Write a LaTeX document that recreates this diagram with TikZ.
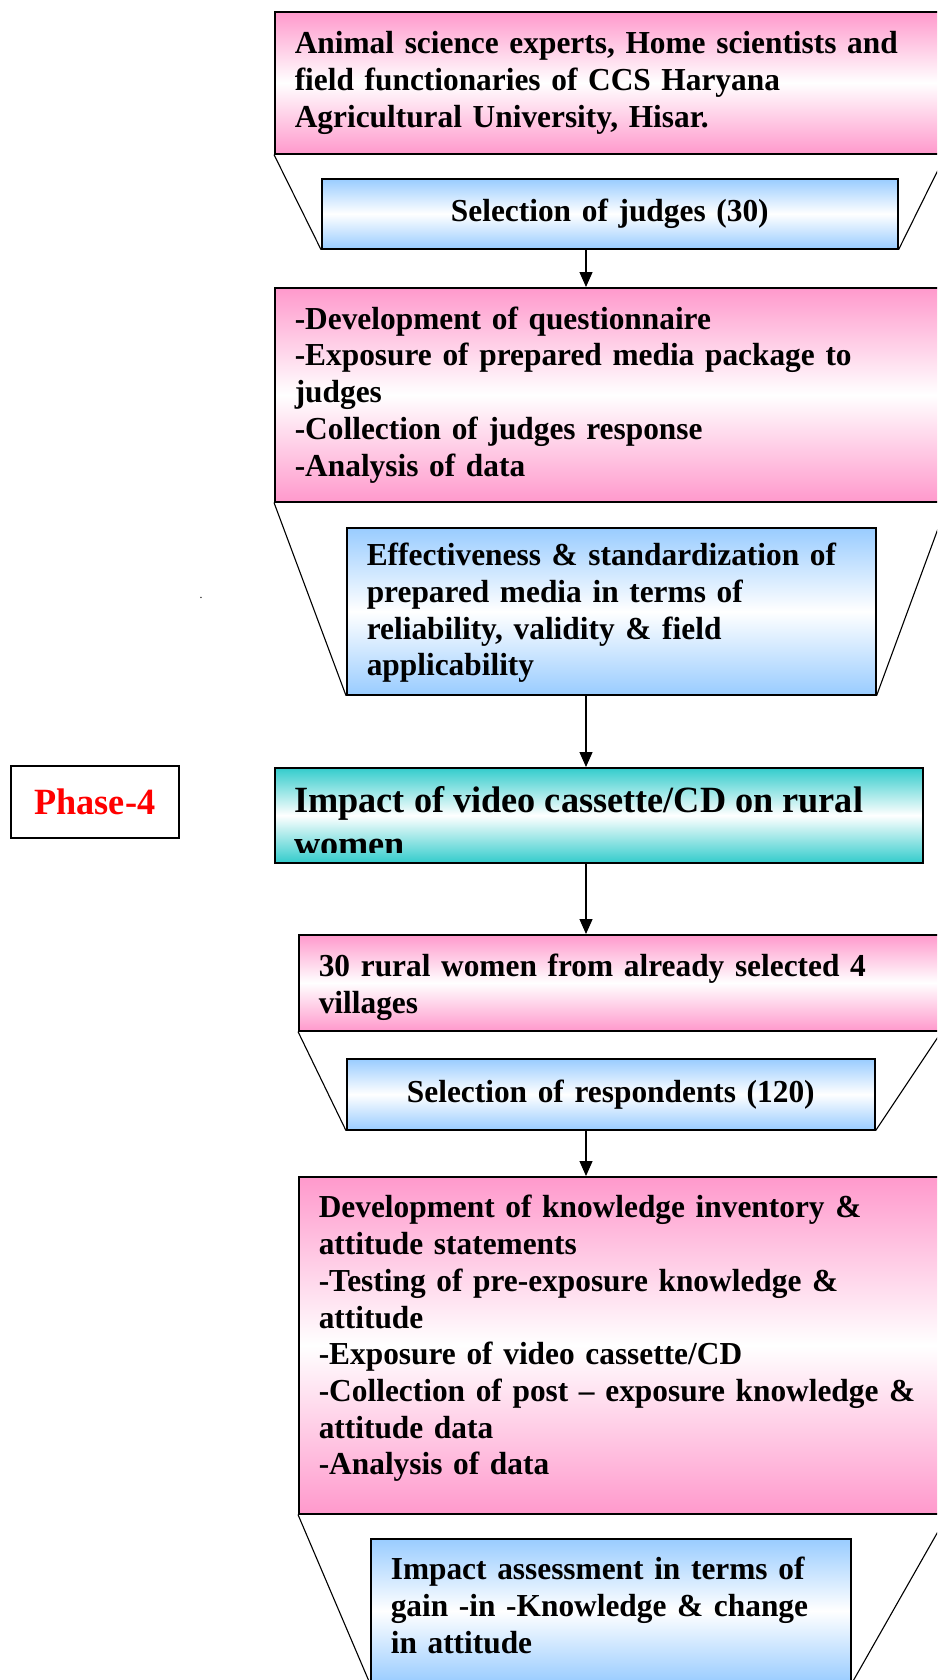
\documentclass[tikz,border=0pt]{standalone}
\usepackage{fontspec}
\setmainfont{Liberation Serif}[FakeStretch=0.98]
\usepackage{xcolor}
\usetikzlibrary{arrows.meta, positioning, calc}

\definecolor{pinkfill}{RGB}{255,153,204}
\definecolor{bluefill}{RGB}{153,204,255}
\definecolor{tealfill}{RGB}{51,204,204}

\begin{document}
\begin{tikzpicture}[
    x=1pt, y=-1pt,
    every node/.style={font=\bfseries\fontsize{32}{36.7}\selectfont},
    pinkbox/.style={rectangle, draw=black, line width=1.6pt, anchor=north west,
                    top color=pinkfill, bottom color=pinkfill, middle color=white,
                    inner xsep=20pt, inner ysep=0pt, align=left},
    bluebox/.style={rectangle, draw=black, line width=1.6pt, anchor=north west,
                    top color=bluefill, bottom color=bluefill, middle color=white,
                    inner xsep=20pt, inner ysep=0pt, align=left},
    tealbox/.style={rectangle, draw=black, line width=1.6pt, anchor=north west,
                    top color=tealfill, bottom color=tealfill, middle color=white,
                    inner sep=0pt},
    phasebox/.style={rectangle, draw=black, line width=1.6pt, fill=white, anchor=north west,
                     inner sep=0pt, text=red, font=\bfseries\fontsize{37}{40}\selectfont},
    arr/.style={-{Triangle[length=15pt, width=13pt]}, line width=1.2pt},
    funnel/.style={line width=1.1pt},
  ]
  \useasboundingbox (0,0) rectangle (937,1680);
  \clip (0,0) rectangle (937,1680);
  \coordinate (spine) at (586,0);

  % judges
  \node[pinkbox, text width=630pt, minimum height=142pt] (experts) at (274,11)
    {Animal science experts, Home scientists and\\field functionaries of CCS Haryana\\Agricultural University, Hisar.};
  \node[bluebox, text width=536pt, minimum height=70pt, align=center] (judges) at (321,178)
    {Selection of judges (30)};
  \node[pinkbox, text width=632pt, minimum height=214pt] (develop) at (274,287)
    {-Development of questionnaire\\-Exposure of prepared media package to\\judges\\-Collection of judges response\\-Analysis of data};
  \node[bluebox, text width=489pt, minimum height=167pt, text height=26pt] (effect) at (346,527)
    {Effectiveness \& standardization of\\prepared media in terms of\\reliability, validity \& field\\applicability};

  % phase 4
  \node[phasebox, minimum width=168pt, minimum height=72pt] (phase) at (10,765) {Phase-4};
  \node[tealbox, minimum width=648pt, minimum height=95pt] (impact) at (274,767) {};
  \begin{scope}
    \clip (impact.north west) rectangle ([yshift=11pt]impact.south east);
    \node[anchor=north west, inner sep=0pt, align=left,
          font=\bfseries\fontsize{37}{44}\selectfont] (impacttext) at (294,786)
      {Impact of video cassette/CD on rural\\women};
  \end{scope}

  % respondents
  \node[pinkbox, text width=602pt, minimum height=96pt, text height=31pt] (rural) at (298,934)
    {30 rural women from already selected 4\\villages};
  \node[bluebox, text width=488pt, minimum height=71pt, align=center] (respond) at (346,1058)
    {Selection of respondents (120)};
  \node[pinkbox, text width=608pt, minimum height=337pt, text height=9pt] (knowledge) at (298,1176)
    {Development of knowledge inventory \&\\attitude statements\\-Testing of pre-exposure knowledge \&\\attitude\\-Exposure of video cassette/CD\\-Collection of post – exposure knowledge \&\\attitude data\\-Analysis of data};
  \node[bluebox, text width=440pt, minimum height=144pt, text height=12pt] (assess) at (370,1538)
    {Impact assessment in terms of\\gain -in -Knowledge \& change\\in attitude};

  \node[font=\fontsize{12}{12}\selectfont, inner sep=0pt] (dot) at (201,598) {.};

  % funnels
  \draw[funnel] (experts.south west) -- (judges.south west);
  \draw[funnel] (experts.south east) -- (judges.south east);
  \draw[funnel] (develop.south west) -- (effect.south west);
  \draw[funnel] (develop.south east) -- (effect.south east);
  \draw[funnel] (rural.south west) -- (respond.south west);
  \draw[funnel] (rural.south east) -- (respond.south east);
  \draw[funnel] (knowledge.south west) -- (assess.south west);
  \draw[funnel] (knowledge.south east) -- (assess.south east);

  \draw[arr] (judges.south -| spine) -- (develop.north -| spine);
  \draw[arr] (effect.south -| spine) -- (impact.north -| spine);
  \draw[arr] (impact.south -| spine) -- (rural.north -| spine);
  \draw[arr] (respond.south -| spine) -- (knowledge.north -| spine);
\end{tikzpicture}
\end{document}
